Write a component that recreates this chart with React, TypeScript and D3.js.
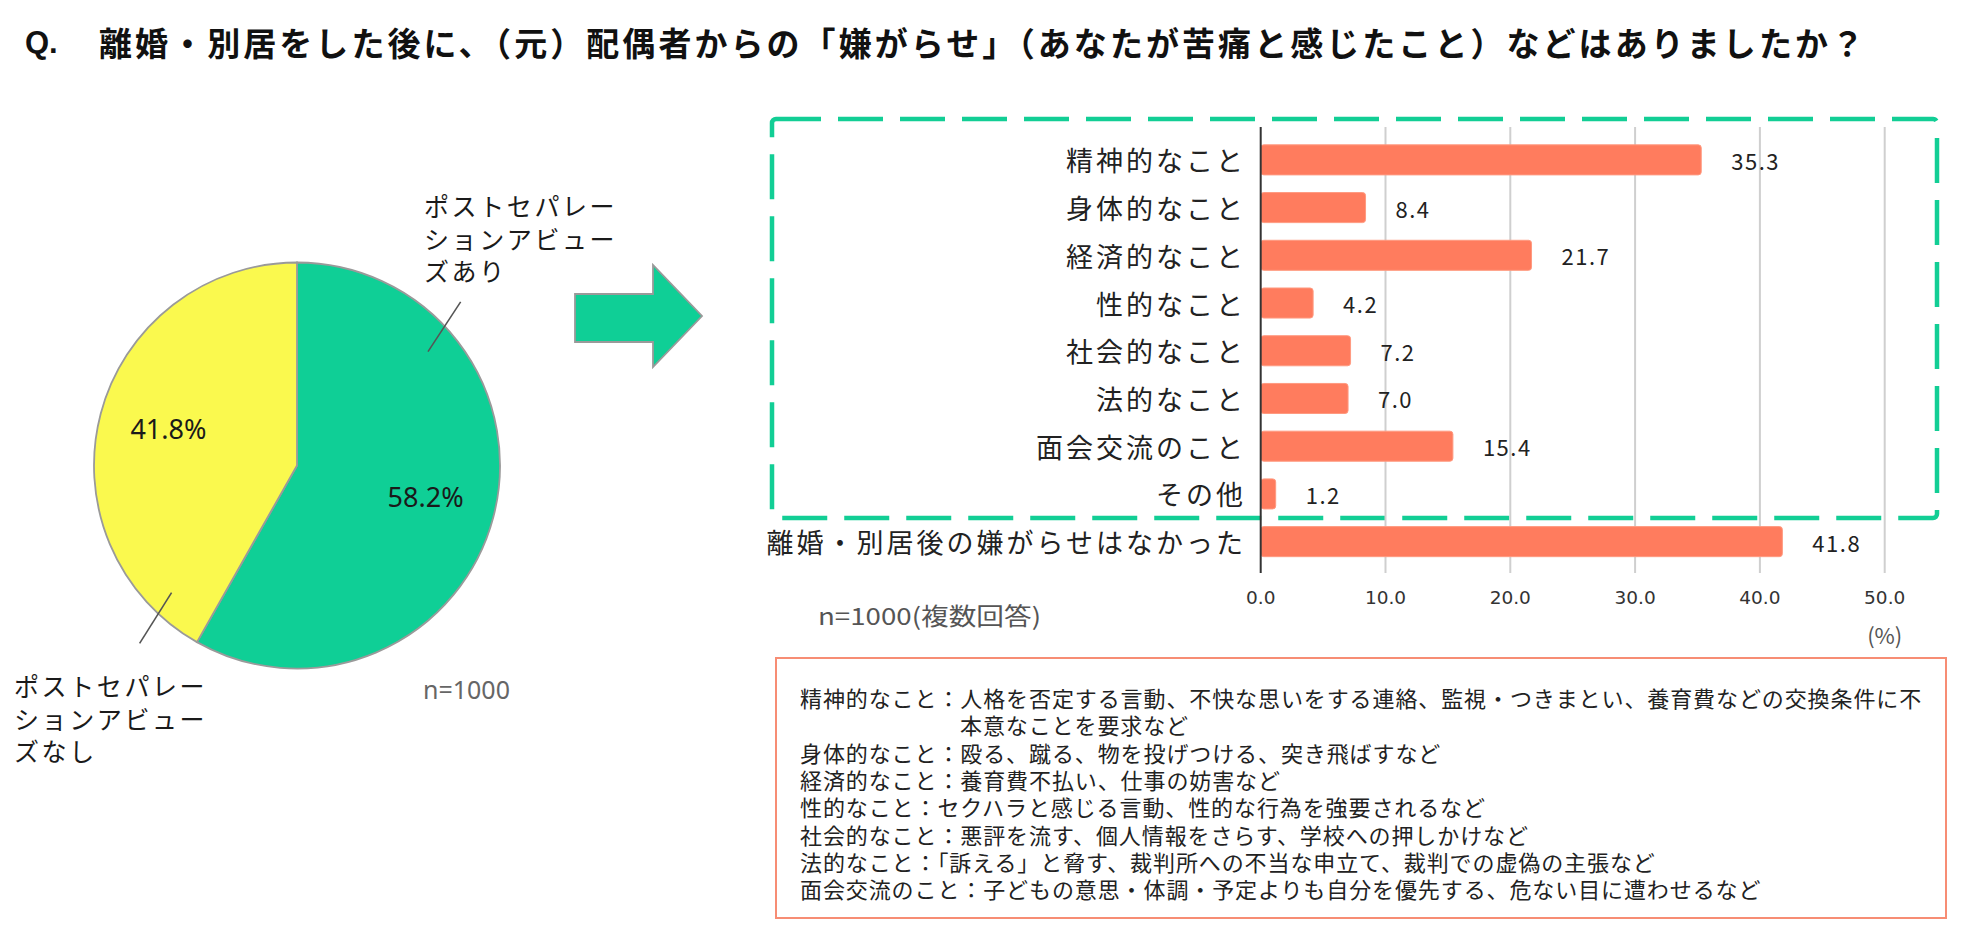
import React from "react"
import * as d3 from "d3"

// bar chart data
const categories = [
	"精神的なこと",
	"身体的なこと",
	"経済的なこと",
	"性的なこと",
	"社会的なこと",
	"法的なこと",
	"面会交流のこと",
	"その他",
	"離婚・別居後の嫌がらせはなかった",
]
const values = [35.3, 8.4, 21.7, 4.2, 7.2, 7.0, 15.4, 1.2, 41.8]
const xTicks = [0, 10, 20, 30, 40, 50]

// pie data
const pieNames = ["ポストセパレーションアビューズあり", "ポストセパレーションアビューズなし"]
const pieValues = [58.2, 41.8]
const pieLabelLines = [
	["ポストセパレー", "ションアビュー", "ズあり"],
	["ポストセパレー", "ションアビュー", "ズなし"],
]

const title = "離婚・別居をした後に、（元）配偶者からの「嫌がらせ」（あなたが苦痛と感じたこと）などはありましたか？"

const notes = [
	"精神的なこと：人格を否定する言動、不快な思いをする連絡、監視・つきまとい、養育費などの交換条件に不",
	"本意なことを要求など",
	"身体的なこと：殴る、蹴る、物を投げつける、突き飛ばすなど",
	"経済的なこと：養育費不払い、仕事の妨害など",
	"性的なこと：セクハラと感じる言動、性的な行為を強要されるなど",
	"社会的なこと：悪評を流す、個人情報をさらす、学校への押しかけなど",
	"法的なこと：「訴える」と脅す、裁判所への不当な申立て、裁判での虚偽の主張など",
	"面会交流のこと：子どもの意思・体調・予定よりも自分を優先する、危ない目に遭わせるなど",
]

const GREEN = "#0fcf96"
const YELLOW = "#faf94e"
const CORAL = "#ff7c5e"
const JP = "'Noto Sans CJK JP', 'Noto Sans', sans-serif"

export default function App() {
	const W = 1968
	const H = 944

	const x = d3.scaleLinear().domain([0, 50]).range([1260.7, 1884.7])
	const y = d3.scaleBand().domain(categories).range([136, 565.5]).paddingInner(0.37).paddingOuter(0.185)
	const gridTop = 127
	const gridBottom = 573

	// pie
	const cx = 297
	const cy = 465.5
	const r = 203
	const pie = d3.pie().sort(null).value(d => d)
	const arcs = pie(pieValues)
	const arc = d3.arc().innerRadius(0).outerRadius(r)
	const labelArc = d3.arc().innerRadius(0).outerRadius(r * 1.31)

	// leader lines (angle in degrees, clockwise from top)
	const leaders = [
		{ a1: 49, r1: 0.855, a2: 45, r2: 1.14 },
		{ a1: 224.6, r1: 0.88, a2: 221.5, r2: 1.17 },
	]
	const pt = (deg, rr) => d3.pointRadial((deg * Math.PI) / 180, rr * r)

	const pieLabelPos = [
		{ x: 424, y: 205 },
		{ x: 14, y: 685 },
	]

	// arrow
	const arrow = d3.path()
	arrow.moveTo(575, 294)
	arrow.lineTo(653, 294)
	arrow.lineTo(653, 265)
	arrow.lineTo(702, 316)
	arrow.lineTo(653, 367)
	arrow.lineTo(653, 342)
	arrow.lineTo(575, 342)
	arrow.closePath()

	return (
		<div style={{ position: "absolute", left: 0, top: 0 }}>
			<svg width={W} height={H} style={{ display: "block", background: "#fff" }}>
				{/* title */}
				<text x={25} y={42} dominantBaseline="central" fontFamily="'Liberation Sans', Arial, sans-serif" fontWeight="bold" fontSize={31} fill="#111">
					Q.
				</text>
				<text x={99} y={42} dominantBaseline="central" fontFamily={JP} fontWeight="bold" fontSize={33} fill="#111" textLength={1765} lengthAdjust="spacing">
					{title}
				</text>

				{/* pie */}
				<g transform={`translate(${cx},${cy})`}>
					{arcs.map((a, i) => (
						<path key={i} d={arc(a)} fill={i === 0 ? GREEN : YELLOW} stroke="#9a9a9a" strokeWidth={1.8} />
					))}
					{arcs.map((a, i) => {
						const c = labelArc.centroid(a)
						return (
							<text key={i} x={c[0]} y={c[1] - 3} textAnchor="middle" dominantBaseline="central" fontFamily="'Noto Sans', sans-serif" fontSize={27} fill="#1a1a1a">
								{a.data.toFixed(1)}%
							</text>
						)
					})}
					{leaders.map((l, i) => {
						const p1 = pt(l.a1, l.r1)
						const p2 = pt(l.a2, l.r2)
						return <line key={i} x1={p1[0]} y1={p1[1]} x2={p2[0]} y2={p2[1]} stroke="#555" strokeWidth={1.6} />
					})}
				</g>
				{pieLabelLines.map((lines, i) => (
					<text key={i} fontFamily={JP} fontSize={25} fill="#1a1a1a" letterSpacing={2.6} aria-label={pieNames[i]}>
						{lines.map((ln, j) => (
							<tspan key={j} x={pieLabelPos[i].x} y={pieLabelPos[i].y + j * 32.5} dominantBaseline="central">
								{ln}
							</tspan>
						))}
					</text>
				))}
				<text x={423} y={689} dominantBaseline="central" fontFamily="'Noto Sans', sans-serif" fontSize={25} fill="#666">
					n=1000
				</text>

				{/* arrow */}
				<path d={arrow.toString()} fill={GREEN} stroke="#9a9a9a" strokeWidth={1.8} />

				{/* dashed highlight box */}
				<rect x={772} y={119} width={1165} height={399} rx={4} fill="none" stroke="#12ce95" strokeWidth={4.5} strokeDasharray="45 17" />

				{/* bar chart grid */}
				{xTicks.slice(1).map(t => (
					<line key={t} x1={x(t)} x2={x(t)} y1={gridTop} y2={gridBottom} stroke="#cfcfcf" strokeWidth={2} />
				))}
				{categories.map((c, i) => (
					<rect key={c} x={x(0)} y={y(c)} width={x(values[i]) - x(0)} height={y.bandwidth()} rx={3} fill={CORAL} stroke="#ff9a80" strokeWidth={1} />
				))}
				<line x1={x(0)} x2={x(0)} y1={gridTop} y2={gridBottom} stroke="#333" strokeWidth={2} />

				{categories.map(c => (
					<text key={c} x={1243 + 3} y={y(c) + y.bandwidth() / 2} textAnchor="end" dominantBaseline="central" fontFamily={JP} fontSize={27} letterSpacing={3} fill="#222">
						{c}
					</text>
				))}
				{categories.map((c, i) => (
					<text key={c} x={x(values[i]) + 30} y={y(c) + y.bandwidth() / 2} dominantBaseline="central" fontFamily={JP} fontSize={22} letterSpacing={1.5} fill="#222">
						{values[i].toFixed(1)}
					</text>
				))}
				{xTicks.map(t => (
					<text key={t} x={x(t)} y={597} textAnchor="middle" dominantBaseline="central" fontFamily="'DejaVu Sans', sans-serif" fontSize={18.5} fill="#333">
						{t.toFixed(1)}
					</text>
				))}
				<text x={x(50)} y={634} textAnchor="middle" dominantBaseline="central" fontFamily={JP} fontSize={22} fill="#555">
					(%)
				</text>
				<text x={818} y={614} dominantBaseline="central" fontFamily={JP} fontSize={24} fill="#555" textLength={223} lengthAdjust="spacingAndGlyphs">
					n=1000(複数回答)
				</text>

				{/* footnote box */}
				<rect x={776} y={658} width={1170} height={260} fill="none" stroke="#f78d74" strokeWidth={2} />
				{notes.map((n, i) => (
					<text key={i} x={i === 1 ? 960 : 800} y={697 + i * 27.3} dominantBaseline="central" fontFamily={JP} fontSize={22} letterSpacing={0.9} fill="#222">
						{n}
					</text>
				))}
			</svg>
		</div>
	)
}
